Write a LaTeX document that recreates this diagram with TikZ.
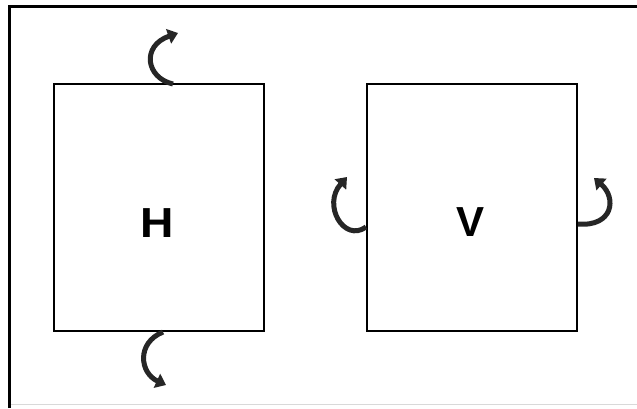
\documentclass[tikz,border=0pt]{standalone}
\usepackage{fontspec}
\setmainfont{Liberation Sans}
\usetikzlibrary{arrows.meta}
\tikzset{
  panel/.style={draw=black, line width=2pt, minimum width=210pt, minimum height=247pt, inner sep=0pt},
  lbl/.style={font=\bfseries\fontsize{42}{42}\selectfont, inner sep=0pt},
  turn/.style={draw=black!85, line width=5pt, -{Triangle[length=10pt,width=15pt]}},
}
\begin{document}
\begin{tikzpicture}[x=1pt,y=-1pt]
\useasboundingbox (0,0) rectangle (637,408);
\fill[white] (0,0) rectangle (637,408);
% frame
\draw[black, line width=3pt] (9.5,408) -- (9.5,6.5) -- (637,6.5);
\draw[black!15, line width=1pt] (11,404.5) -- (637,404.5);
% boxes
\node[panel] (H) at (159,207.5) {};
\node[panel] (V) at (472,207.5) {};
\node[lbl] (Hl) at (157,223) {\scalebox{1.1}[1]{H}};
\node[lbl] (Vl) at (471,222) {V};
% arrows
\coordinate (ht) at (173,84);
\coordinate (htt) at (178,33);
\coordinate (hb) at (163,332);
\coordinate (hbt) at (166,385);
\coordinate (vl) at (366,227);
\coordinate (vlt) at (347,177);
\coordinate (vr) at (578,224);
\coordinate (vrt) at (594,178);
\draw[turn] (ht) .. controls (146,78) and (141,46) .. (htt);
\draw[turn] (hb) .. controls (136,343) and (140,373) .. (hbt);
\draw[turn] (vl) .. controls (344,243) and (322,205) .. (vlt);
\draw[turn] (vr) .. controls (613,227) and (617,198) .. (vrt);
\end{tikzpicture}
\end{document}
